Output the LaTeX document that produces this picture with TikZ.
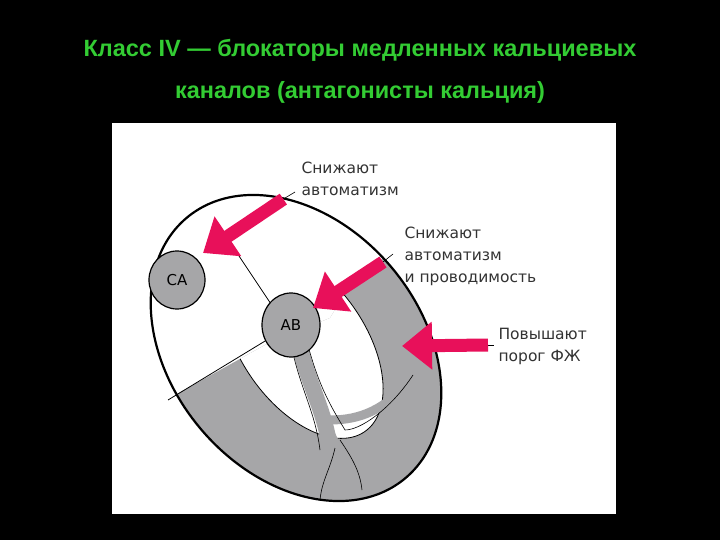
\documentclass[tikz,border=0pt]{standalone}
\usepackage{fontspec}
\setmainfont{Liberation Sans}
\newfontfamily\lblfont{DejaVu Sans}
\usetikzlibrary{arrows.meta,shapes.geometric}
\definecolor{ttl}{HTML}{33CC33}
\definecolor{mag}{HTML}{E8105A}
\definecolor{gr}{HTML}{A6A6A8}
\tikzset{
  lbl/.style={anchor=north west,align=left,font=\lblfont\fontsize{15.5}{22}\selectfont,text=black!80},
  marr/.style={draw=mag,line width=13pt,-{Triangle[length=30pt,width=46pt]},mag},
  node circ/.style={ellipse,draw=black,line width=1.2pt,fill=gr,font=\lblfont\fontsize{15}{15}\selectfont},
}
\begin{document}
\begin{tikzpicture}[x=1pt,y=-1pt]
\fill[black] (0,0) rectangle (720,540);
\useasboundingbox (0,0) rectangle (720,540);
\node[text=ttl,font=\bfseries\fontsize{23.5}{23.5}\selectfont] (t1) at (360,50) {Класс IV — блокаторы медленных кальциевых};
\node[text=ttl,font=\bfseries\fontsize{23.5}{23.5}\selectfont] (t2) at (360,92) {каналов (антагонисты кальция)};
\fill[white] (112,123) rectangle (616,514);
% heart
\fill[white] (296,348) ellipse[x radius=170,y radius=125,rotate=-50];
\begin{scope}
\clip (296,348) ellipse[x radius=170,y radius=125,rotate=-50];
\fill[gr] (175,395) -- (265,345) -- (330,318) -- (352,282) -- (400,245) -- (520,290) -- (520,530) -- (150,530) -- cycle;
\end{scope}
\begin{scope}
\clip (175,395) -- (265,345) -- (330,318) -- (352,282) -- (400,245) -- (520,290) -- (520,530) -- (150,530) -- cycle;
\fill[white,draw=black,line width=0.8pt] (303,343) ellipse[x radius=108,y radius=62,rotate=-55];
\end{scope}
% septum lines
\draw[line width=0.8pt] (237,253) -- (275,310);
\draw[line width=0.8pt] (168,400) -- (275,335);
% bundle branches
\draw[gr,line width=16pt,line cap=round] (298,340) .. controls (310,390) and (325,410) .. (330,450);
\draw[gr,line width=10pt,line cap=round] (318,405) .. controls (330,440) and (350,470) .. (355,485);
\draw[gr,line width=9pt,line cap=round] (330,420) .. controls (360,420) and (385,410) .. (410,380);
\draw[black,line width=0.6pt] (290,340) .. controls (300,390) and (315,410) .. (320,450);
\draw[black,line width=0.6pt] (306,338) .. controls (318,385) and (330,405) .. (345,430) .. controls (360,430) and (390,410) .. (413,375);
\draw[black,line width=0.6pt] (340,440) .. controls (350,455) and (360,470) .. (362,490);
\draw[black,line width=0.6pt] (335,448) .. controls (330,470) and (322,480) .. (320,500);
\draw[black,line width=2.2pt] (296,348) ellipse[x radius=170,y radius=125,rotate=-50];
\node[node circ,minimum width=56pt,minimum height=58pt] (sa) at (177,280) {СА};
\node[node circ,minimum width=58pt,minimum height=64pt] (av) at (291,325) {АВ};
% labels
\node[lbl] (l1) at (298,158) {Снижают\\автоматизм};
\node[lbl] (l2) at (401,223) {Снижают\\автоматизм\\и проводимость};
\node[lbl] (l3) at (495,325) {Повышают\\порог ФЖ};
% arrows
\coordinate (a1s) at (285,198); \coordinate (a1e) at (203,253);
\coordinate (a2s) at (383,262); \coordinate (a2e) at (313,308);
\coordinate (a3s) at (488,345); \coordinate (a3e) at (402,346);
\draw[line width=0.6pt] (a1s) -- ++(10,-6);
\draw[line width=0.6pt] (a2s) -- ++(10,-8);
\draw[line width=0.6pt] (a3s) -- ++(6,0);
\draw[marr,shorten <=2pt] (a1s) -- (a1e);
\draw[marr] (a2s) -- (a2e);
\draw[marr] (a3s) -- (a3e);
\end{tikzpicture}
\end{document}
